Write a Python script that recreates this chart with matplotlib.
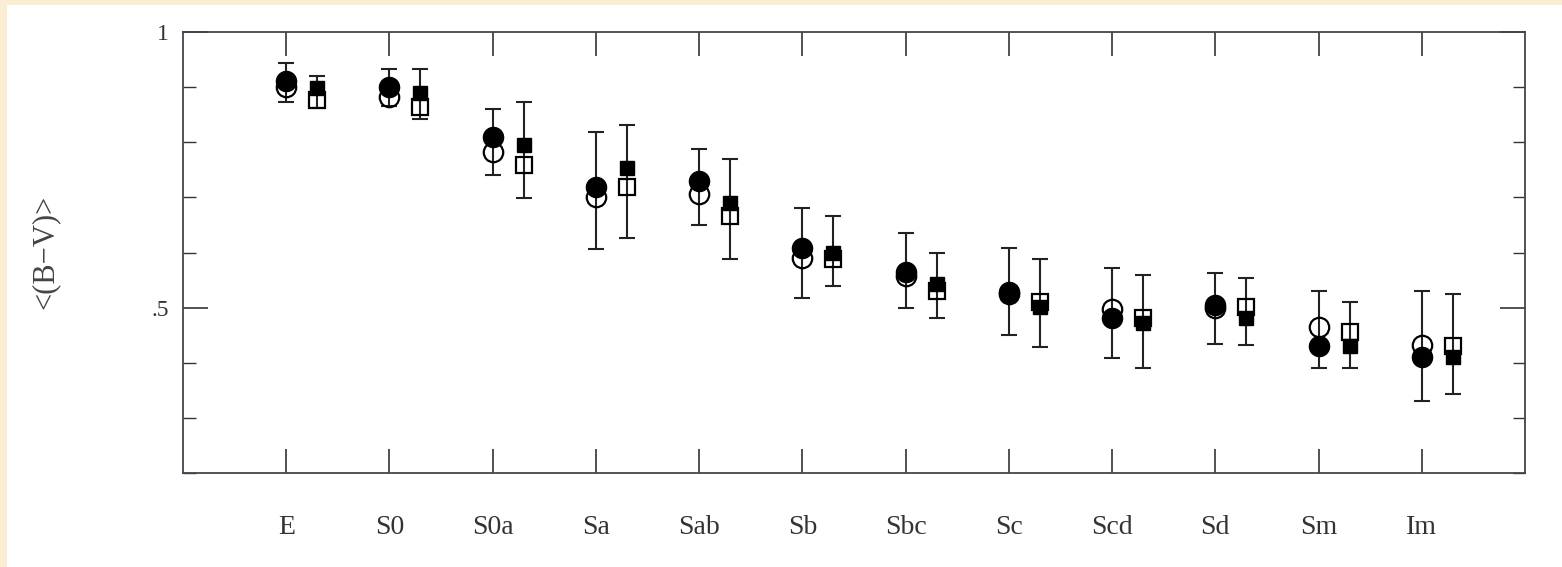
import matplotlib
matplotlib.use("Agg")
import matplotlib.pyplot as plt
import numpy as np
from matplotlib.patches import Rectangle
from matplotlib.ticker import MultipleLocator, FixedLocator, FuncFormatter

types = ['E', 'S0', 'S0a', 'Sa', 'Sab', 'Sb', 'Sbc', 'Sc', 'Scd', 'Sd', 'Sm', 'Im']

# circles
circ_filled = [0.912, 0.900, 0.810, 0.718, 0.729, 0.609, 0.564, 0.529, 0.482, 0.504, 0.431, 0.411]
circ_open = [0.900, 0.882, 0.782, 0.700, 0.707, 0.590, 0.558, 0.525, 0.498, 0.500, 0.465, 0.433]
circ_hi = [0.944, 0.933, 0.860, 0.818, 0.787, 0.680, 0.636, 0.609, 0.571, 0.562, 0.531, 0.531]
circ_lo = [0.873, 0.865, 0.740, 0.607, 0.649, 0.518, 0.500, 0.451, 0.409, 0.434, 0.391, 0.331]

# squares
sq_filled = [0.898, 0.890, 0.795, 0.753, 0.689, 0.600, 0.542, 0.502, 0.473, 0.482, 0.431, 0.411]
sq_open = [0.876, 0.864, 0.758, 0.718, 0.667, 0.589, 0.531, 0.510, 0.482, 0.502, 0.455, 0.431]
sq_hi = [0.920, 0.933, 0.873, 0.831, 0.769, 0.667, 0.600, 0.589, 0.560, 0.553, 0.511, 0.524]
sq_lo = [0.862, 0.843, 0.698, 0.627, 0.589, 0.540, 0.482, 0.429, 0.391, 0.433, 0.391, 0.343]

plt.rcParams['font.family'] = ['Liberation Serif', 'DejaVu Serif']

fig = plt.figure(figsize=(15.62, 5.67), dpi=100)
fig.patch.set_facecolor('white')
# cream frame strips on left and top
fig.patches.append(Rectangle((0, 0), 7 / 1562, 1, transform=fig.transFigure,
                             facecolor='#fbedd2', edgecolor='none', zorder=-10))
fig.patches.append(Rectangle((0, 1 - 5 / 567), 1, 5 / 567, transform=fig.transFigure,
                             facecolor='#fbedd2', edgecolor='none', zorder=-10))

ax = fig.add_axes([183 / 1562, 94 / 567, 1342 / 1562, 441 / 567])
ax.set_facecolor('white')

x = np.arange(len(types))
xs = x + 0.3

c_f = np.array(circ_filled)
s_f = np.array(sq_filled)
ax.errorbar(x, c_f, yerr=[c_f - np.array(circ_lo), np.array(circ_hi) - c_f], fmt='none',
            ecolor='#222222', elinewidth=1.5, capsize=6, capthick=1.5, zorder=2)
ax.errorbar(xs, s_f, yerr=[s_f - np.array(sq_lo), np.array(sq_hi) - s_f], fmt='none',
            ecolor='#222222', elinewidth=1.5, capsize=6, capthick=1.5, zorder=2)

ax.plot(x, circ_open, 'o', ms=14, mfc='none', mec='black', mew=1.6, zorder=3)
ax.plot(xs, sq_open, 's', ms=11, mfc='none', mec='black', mew=1.6, zorder=3)
ax.plot(x, circ_filled, 'o', ms=14.5, color='black', zorder=4)
ax.plot(xs, sq_filled, 's', ms=10.5, color='black', zorder=4)

ax.set_xlim(-1, 12)
ax.set_ylim(0.2, 1.0)

ax.xaxis.set_major_locator(FixedLocator(x))
ax.set_xticklabels(types)
ax.yaxis.set_major_locator(FixedLocator([0.5, 1.0]))
ax.yaxis.set_minor_locator(MultipleLocator(0.1))
ax.yaxis.set_major_formatter(FuncFormatter(lambda v, p: '1' if v > 0.99 else '.5'))

ax.tick_params(which='both', direction='in', top=True, right=True, color='#333333')
ax.tick_params(axis='x', which='major', length=17, width=1.2, labelsize=20, pad=30, colors='#333333')
ax.tick_params(axis='y', which='major', length=18, width=1.2, labelsize=17, pad=10, colors='#333333')
ax.tick_params(axis='y', which='minor', length=9, width=1.0)

for s in ax.spines.values():
    s.set_color('#444450')
    s.set_linewidth(1.3)

fig.text(45 / 1562, 1 - 252 / 567, '<(B\u2212V)>', rotation=90, ha='center', va='center',
         fontsize=22, color='#444444')

fig.savefig('out.png', dpi=100, facecolor=fig.get_facecolor())
